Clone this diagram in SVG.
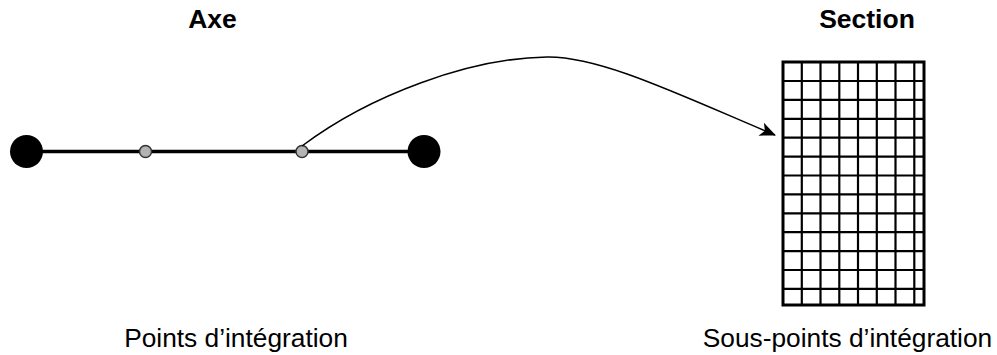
<svg xmlns="http://www.w3.org/2000/svg" width="997" height="355" viewBox="0 0 997 355">
<style>
.title{font-family:"Liberation Sans",Arial,sans-serif;font-weight:bold;font-size:26.5px;fill:#000;text-anchor:middle}
.label{font-family:"Liberation Sans",Arial,sans-serif;font-size:26.3px;fill:#000;text-anchor:middle}
.big{fill:#000}
.small{fill:#b3b3b3;stroke:#333;stroke-width:1.5}
.grid line{stroke:#000;stroke-width:2.2}
</style>
<defs>
<marker id="arrow" markerWidth="16" markerHeight="14" refX="15" refY="7" orient="auto" markerUnits="userSpaceOnUse">
<path d="M0,0 L16,7 L0,14 L4,7 Z" fill="#000"/>
</marker>
</defs>
<text class="title" x="212.5" y="28">Axe</text>
<text class="title" x="867" y="28">Section</text>
<g id="axe">
<line x1="27" y1="151.5" x2="424" y2="151.5" stroke="#000" stroke-width="3.5"/>
<circle id="end-left" class="big" cx="26.5" cy="151.5" r="16.5"/>
<circle id="end-right" class="big" cx="424" cy="151.5" r="16.5"/>
<circle id="pt1" class="small" cx="145.5" cy="151.5" r="6"/>
<circle id="pt2" class="small" cx="302" cy="151.5" r="6"/>
</g>
<g id="connectors">
<path d="M302,146 C370,95 470,58 547,57 C600,56 680,95 775,135" fill="none" stroke="#000" stroke-width="1.5" marker-end="url(#arrow)"/>
</g>
<g id="section" class="grid">
<rect x="783" y="62" width="141" height="243" fill="#fff" stroke="#000" stroke-width="3"/>
<line x1="801.8" y1="62" x2="801.8" y2="305"/>
<line x1="820.5" y1="62" x2="820.5" y2="305"/>
<line x1="839.3" y1="62" x2="839.3" y2="305"/>
<line x1="858" y1="62" x2="858" y2="305"/>
<line x1="876.8" y1="62" x2="876.8" y2="305"/>
<line x1="895.5" y1="62" x2="895.5" y2="305"/>
<line x1="914.3" y1="62" x2="914.3" y2="305"/>
<line x1="783" y1="81" x2="924" y2="81"/>
<line x1="783" y1="99.9" x2="924" y2="99.9"/>
<line x1="783" y1="118.8" x2="924" y2="118.8"/>
<line x1="783" y1="137.7" x2="924" y2="137.7"/>
<line x1="783" y1="156.6" x2="924" y2="156.6"/>
<line x1="783" y1="175.5" x2="924" y2="175.5"/>
<line x1="783" y1="194.4" x2="924" y2="194.4"/>
<line x1="783" y1="213.3" x2="924" y2="213.3"/>
<line x1="783" y1="232.2" x2="924" y2="232.2"/>
<line x1="783" y1="251.1" x2="924" y2="251.1"/>
<line x1="783" y1="270" x2="924" y2="270"/>
<line x1="783" y1="288.9" x2="924" y2="288.9"/>
</g>
<text class="label" x="236" y="347">Points d’intégration</text>
<text class="label" x="847.5" y="347">Sous-points d’intégration</text>
</svg>
